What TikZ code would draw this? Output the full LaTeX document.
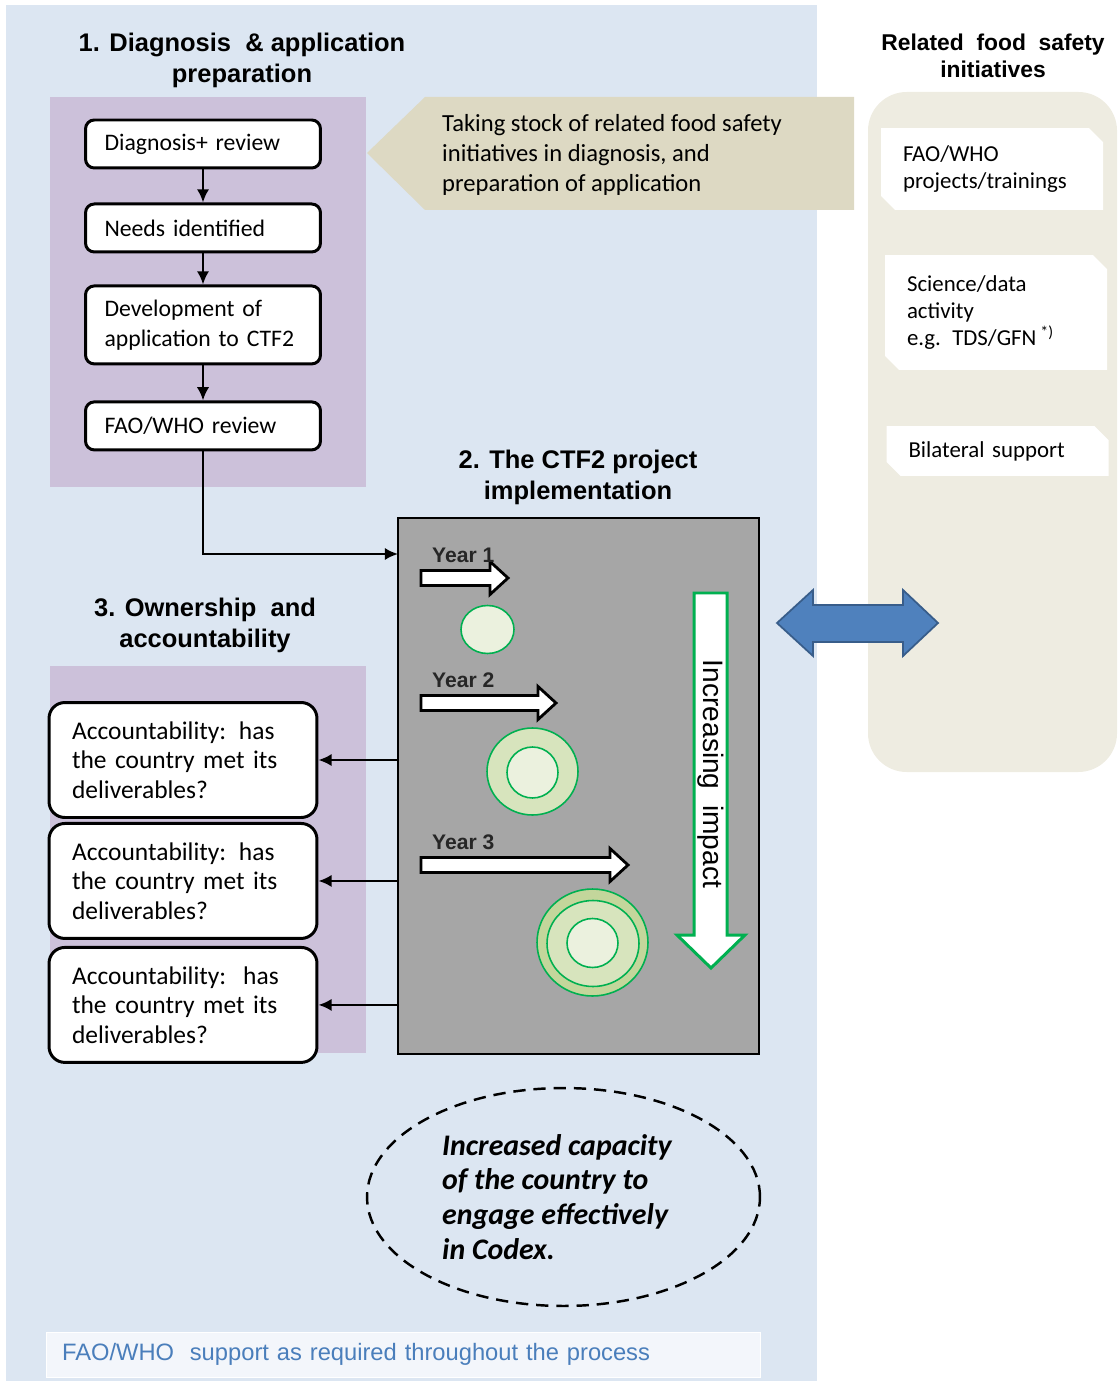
\documentclass[tikz,border=0pt]{standalone}
\usepackage{fontspec}
\setmainfont{Carlito}
\newfontfamily\headfont{Liberation Sans}
\usetikzlibrary{positioning,arrows.meta,shapes.misc}
\definecolor{panelblue}{RGB}{220,230,242}
\definecolor{stagepurple}{RGB}{204,193,218}
\definecolor{stockbeige}{RGB}{221,217,195}
\definecolor{sidebeige}{RGB}{238,236,225}
\definecolor{projgray}{RGB}{166,166,166}
\definecolor{ringgreen}{RGB}{0,176,80}
\definecolor{ringpale}{RGB}{235,241,222}
\definecolor{ringmid}{RGB}{215,228,189}
\definecolor{ringdark}{RGB}{195,214,155}
\definecolor{swapblue}{RGB}{79,129,189}
\definecolor{swapedge}{RGB}{56,93,138}
\definecolor{supportblue}{RGB}{74,126,187}
\definecolor{supportfill}{RGB}{243,246,251}
\begin{document}
\begin{tikzpicture}[x=0.02cm,y=-0.02cm]
        % Styles
        \tikzstyle{stage title}=[font=\headfont\bfseries\fontsize{14.5}{17.6}\selectfont,align=center]
        \tikzstyle{side title}=[font=\headfont\bfseries\fontsize{13}{15.3}\selectfont,align=center]
        \tikzstyle{step box}=[draw,line width=1.7pt,rounded corners=5pt,fill=white,minimum width=4.7cm,minimum height=0.96cm,text width=3.94cm,inner xsep=0.38cm,align=left,font=\fontsize{13.5}{17}\selectfont]
        \tikzstyle{check box}=[draw,line width=1.7pt,rounded corners=9pt,fill=white,minimum width=5.36cm,minimum height=2.3cm,text width=4.44cm,inner xsep=0.46cm,align=left,font=\fontsize{14.5}{16.7}\selectfont]
        \tikzstyle{init box}=[chamfered rectangle,chamfered rectangle corners={north east,south west},chamfered rectangle xsep=4pt,chamfered rectangle ysep=4pt,fill=white,minimum width=4.16cm,text width=3.56cm,inner xsep=0.3cm,align=left,font=\fontsize{13}{15.3}\selectfont]
        \tikzstyle{flow}=[line width=1.3pt,-{Latex[length=7.5pt,width=7pt]}]
        \tikzstyle{year arrow}=[fill=white,draw=black,line width=1.6pt,line join=miter]
        \tikzstyle{year label}=[font=\headfont\bfseries\fontsize{12}{14}\selectfont,text=black!85]
        \tikzstyle{ring}=[draw=ringgreen,line width=0.9pt]
        \useasboundingbox (0,0) rectangle (1117,1381);
        %panels
        \fill[panelblue] (6,5) rectangle (817,1381);
        \fill[sidebeige,rounded corners=22pt] (868,92) rectangle (1117,772);
        \fill[stagepurple] (50,97) rectangle (366,487);
        \fill[stagepurple] (50,666) rectangle (366,1053);
        \fill[stockbeige] (367,153) -- (425,97) -- (854,97) -- (854,210) -- (425,210) -- cycle;
        %titles
        \node[stage title] (diagtitle) at (242,60) {1. Diagnosis\ \ \& application\\preparation};
        \node[stage title] (projtitle) at (578,477) {2. The CTF2 project\\implementation};
        \node[stage title] (owntitle) at (205,625) {3. Ownership\ \ and\\accountability};
        \node[side title] (sidetitle) at (993,56) {Related\ \ food\ \ safety\\initiatives};
        %stage 1
        \node[step box] (diag) at (203,144) {Diagnosis+ review};
        \node[step box,below=0.66cm of diag] (needs) {Needs identified};
        \node[step box,below=0.62cm of needs,minimum height=1.56cm] (dev) {Development of\\application to CTF2};
        \node[step box,below=0.7cm of dev] (faorev) {FAO/WHO review};
        \draw[flow] (diag) -- (needs);
        \draw[flow] (needs) -- (dev);
        \draw[flow] (dev) -- (faorev);
        \node[anchor=west,align=left,font=\fontsize{14}{17}\selectfont] (stock) at (436,155) {Taking stock of related food safety\\initiatives in diagnosis, and\\preparation of application};
        %stage 2
        \node[draw,line width=1.6pt,fill=projgray,minimum width=7.22cm,minimum height=10.72cm] (proj) at (578.5,786) {};
        \coordinate (entry) at (398,554);
        \draw[flow] (faorev.south) |- (entry);
        \foreach \n/\tip/\y in {1/508/578,2/556/703,3/628/865}{
            \draw[year arrow] (421,\y-7.5) -- (\tip-18,\y-7.5) -- (\tip-18,\y-16.5) -- (\tip,\y) -- (\tip-18,\y+16.5) -- (\tip-18,\y+7.5) -- (421,\y+7.5) -- cycle;
            \node[year label,anchor=west] (year\n) at (426,\y-23) {Year \n};
        }
        %rings
        \draw[ring,fill=ringpale] (487.5,629.5) ellipse (0.53cm and 0.48cm);
        \draw[ring,fill=ringmid] (532.5,771.5) ellipse (0.91cm and 0.87cm);
        \draw[ring,fill=ringpale] (532.5,772.5) ellipse (0.51cm and 0.51cm);
        \draw[ring,fill=ringdark] (592.5,942.5) ellipse (1.11cm and 1.07cm);
        \draw[ring,fill=ringmid] (593,943.5) ellipse (0.92cm and 0.86cm);
        \draw[ring,fill=ringpale] (592.5,943) ellipse (0.51cm and 0.49cm);
        %impact
        \draw[draw=ringgreen,line width=1.7pt,fill=white] (694,593) -- (727,593) -- (727,935) -- (745,935) -- (711,968) -- (677,935) -- (694,935) -- cycle;
        \node[rotate=-90,font=\headfont\fontsize{16}{18}\selectfont] (impact) at (711,774) {Increasing\ \ impact};
        %link to the side
        \draw[fill=swapblue,draw=swapedge,line width=1pt,line join=miter] (777,623) -- (813,590) -- (813,605) -- (903,605) -- (903,590) -- (938,623) -- (903,656) -- (903,642) -- (813,642) -- (813,656) -- cycle;
        %stage 3
        \node[check box] (acc1) at (183,760) {Accountability: has\\the country met its\\deliverables?};
        \node[check box,below=0.06cm of acc1] (acc2) {Accountability: has\\the country met its\\deliverables?};
        \node[check box,below=0.12cm of acc2] (acc3) {Accountability:\ \ has\\the country met its\\deliverables?};
        \foreach \acc in {acc1,acc2,acc3}
            \draw[flow] (proj.west |- \acc.east) -- (\acc.east);
        %related initiatives
        \node[init box,minimum height=1.64cm] (faoproj) at (992,169) {FAO/WHO\\projects/trainings};
        \node[init box,minimum height=2.3cm] (science) at (996,312.5) {Science/data\\activity\\e.g. TDS/GFN\,\textsuperscript{*)}};
        \node[init box,minimum height=1cm] (bilateral) at (997.5,451) {Bilateral support};
        %outcome
        \draw[line width=1.4pt,dash pattern=on 7pt off 4.5pt] (563.5,1197) ellipse (3.93cm and 2.18cm);
        \node[anchor=west,align=left,font=\bfseries\itshape\fontsize{17}{19.8}\selectfont] (goal) at (436,1197) {Increased capacity\\of the country to\\engage effectively\\in Codex.};
        \node[draw=white,fill=supportfill,minimum width=14.28cm,minimum height=0.9cm,text width=13.64cm,inner xsep=0.32cm,align=left,text=supportblue,font=\headfont\fontsize{13.5}{16}\selectfont] (support) at (403,1354.5) {FAO/WHO\ \ support\ as required throughout the process};
\end{tikzpicture}
\end{document}
